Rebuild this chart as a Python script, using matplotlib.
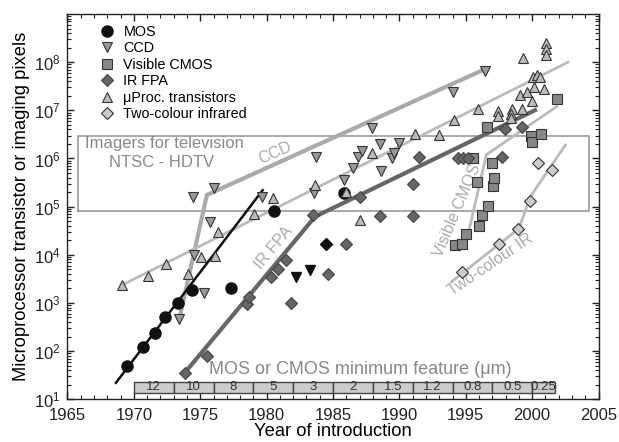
import matplotlib
matplotlib.use("Agg")
import matplotlib.pyplot as plt
from matplotlib.ticker import MultipleLocator, LogLocator, NullFormatter
import matplotlib.transforms as mtransforms

plt.rcParams['font.family'] = ['Liberation Sans', 'DejaVu Sans']
plt.rcParams['mathtext.default'] = 'regular'

# ---------------- data ----------------
mos_year = [1969.5, 1970.7, 1971.6, 1972.35, 1973.35, 1974.35, 1977.3, 1980.55, 1985.8]
mos_val = [50, 123, 240, 500, 980, 1900, 2000, 8e4, 1.95e5]

ccd_year = [1973.4, 1974.55, 1975.25, 1975.75, 1974.45, 1976.05, 1979.65, 1983.6, 1983.7,
            1985.8, 1986.5, 1986.85, 1987.15, 1987.95, 1988.55, 1988.6, 1989.45, 1989.6,
            1990.0, 1994.0, 1996.45]
ccd_val = [470, 1e4, 1600, 4.8e4, 1.6e5, 2.4e5, 1.6e5, 1.95e5, 1.1e6,
           3.5e5, 6.3e5, 1.1e6, 1.45e6, 4.3e6, 2e6, 5.6e5, 1.0e6, 1.3e6,
           2.1e6, 2.4e7, 6.5e7]
ccd_black_year = [1982.2, 1983.3]
ccd_black_val = [3400, 4800]

cmos_year = [1994.2, 1994.75, 1995.0, 1995.55, 1995.85, 1996.0, 1996.2, 1996.6, 1996.7,
             1996.95, 1997.05, 1997.15, 1999.9, 2000.0, 2000.65, 2001.9]
cmos_val = [1.6e4, 1.66e4, 2.7e4, 1e6, 3.3e5, 4e4, 6.7e4, 4.5e6, 1.05e5,
            8.1e5, 2.7e5, 3.9e5, 3e6, 2.2e6, 3.3e6, 1.7e7]

ir_year = [1973.85, 1975.5, 1978.5, 1978.65, 1980.35, 1980.85, 1981.45, 1981.85, 1983.5,
           1984.6, 1986.0, 1987.0, 1988.55, 1991.05, 1991.0, 1991.5, 1994.45, 1994.8,
           1995.2, 1997.75, 1997.95, 1999.25]
ir_val = [36, 81, 930, 1300, 3500, 5100, 7800, 1000, 6.7e4,
          4000, 1.66e4, 1.55e5, 6.5e4, 6.5e4, 2.9e5, 1.1e6, 1e6, 1e6,
          1e6, 1.1e6, 4.1e6, 4.5e6]
ir_black_year = [1984.5]
ir_black_val = [1.66e4]

up_year = [1969.1, 1971.1, 1972.4, 1974.05, 1975.05, 1976.1, 1976.35, 1979.05, 1980.5,
           1983.65, 1986.0, 1987.05, 1987.95, 1991.2, 1993.0, 1994.1, 1995.95, 1997.45,
           1997.45, 1998.45, 1998.4, 1998.4, 1999.2, 1999.1, 1999.6, 2000.1, 2000.9,
           2000.0, 2000.05, 2000.35, 2000.6, 1999.3, 2001.05, 2001.05, 2001.05]
up_val = [2350, 3600, 6600, 4000, 9000, 9300, 3e4, 7.2e4, 1.5e5,
          2.8e5, 2e5, 5.3e4, 1.3e6, 3.2e6, 3.1e6, 6.3e6, 1.05e7, 9.5e6,
          7.6e6, 1.05e7, 8.3e6, 6.8e6, 1.05e7, 2.1e7, 2.45e7, 3e7, 2.75e7,
          1.6e7, 5e7, 5.5e7, 4.9e7, 1.2e8, 2.45e8, 1.85e8, 1.4e8]

two_year = [1994.75, 1997.5, 1998.95, 1999.8, 2000.45, 2001.5]
two_val = [4300, 1.66e4, 3.4e4, 1.3e5, 8e5, 5.8e5]

# trend lines
mos_line_year = [1968.65, 1979.7]
mos_line_val = [22, 2.2e5]
ccd_line_year = [1973.45, 1975.5, 1996.55]
ccd_line_val = [500, 1.75e5, 7.4e7]
up_line_year = [1969.1, 2002.7]
up_line_val = [2350, 1e8]
ir_line_year = [1973.85, 1983.65, 2000.35]
ir_line_val = [36, 6.2e4, 1.05e7]
cmos_line_year = [1994.95, 1996.55, 2001.85]
cmos_line_val = [1.45e4, 1.2e6, 1.2e7]
two_line_year = [1993.95, 1999.0, 1999.85, 2002.5]
two_line_val = [2.8e3, 3.5e4, 1.6e5, 1.9e6]

# TV imager band
tv_years = [1965.77, 2004.3]
tv_vals = [8e4, 3e6]

# minimum feature size bar
feat_edges = [1970, 1973, 1976, 1979, 1982, 1985, 1988, 1991, 1994, 1997, 2000, 2001.75]
feat_labels = ['12', '10', '8', '5', '3', '2', '1.5', '1.2', '0.8', '0.5', '0.25']

# ---------------- figure ----------------
fig = plt.figure(figsize=(6.19, 4.42), dpi=100)
ax = fig.add_axes([0.109, 0.0966, 0.858, 0.8717])
ax.set_yscale('log')
ax.set_xlim(1965, 2005)
ax.set_ylim(10, 1e9)

# TV box
ax.plot([tv_years[0], tv_years[1], tv_years[1], tv_years[0], tv_years[0]],
        [tv_vals[0], tv_vals[0], tv_vals[1], tv_vals[1], tv_vals[0]],
        color='#999999', lw=1.2, zorder=1)
ax.text(1972.3, 10**6.32, 'Imagers for television', color='#888888', fontsize=12,
        ha='center', va='center')
ax.text(1972.1, 10**5.91, 'NTSC - HDTV', color='#888888', fontsize=12,
        ha='center', va='center')

# trend lines
ax.plot(ccd_line_year, ccd_line_val, color='#aaaaaa', lw=3, zorder=2, solid_capstyle='butt')
ax.plot(up_line_year, up_line_val, color='#bbbbbb', lw=2, zorder=2)
ax.plot(ir_line_year, ir_line_val, color='#666666', lw=3, zorder=2, solid_capstyle='butt')
ax.plot(cmos_line_year, cmos_line_val, color='#bbbbbb', lw=2, zorder=2)
ax.plot(two_line_year, two_line_val, color='#bbbbbb', lw=2, zorder=2)
ax.plot(mos_line_year, mos_line_val, color='#111111', lw=1.8, zorder=2)

# line labels
ax.text(1980.63, 10**6.11, 'CCD', color='#aaaaaa', fontsize=11.5, rotation=24,
        ha='center', va='center')
ax.text(1980.5, 10**4.14, 'IR FPA', color='#aaaaaa', fontsize=11.5, rotation=50,
        ha='center', va='center')
ax.text(1994.34, 10**4.93, 'Visible CMOS', color='#aaaaaa', fontsize=11.5, rotation=67,
        ha='center', va='center')
ax.text(1996.83, 10**3.79, 'Two-colour IR', color='#aaaaaa', fontsize=11.5, rotation=34,
        ha='center', va='center')

# markers
ec = '#333333'
h1, = ax.plot(mos_year, mos_val, 'o', ms=8, color='#111111', mec='#111111', zorder=4, label='MOS')
h2, = ax.plot(ccd_year, ccd_val, 'v', ms=7.5, mfc='#999999', mec=ec, mew=0.8, zorder=4, label='CCD')
ax.plot(ccd_black_year, ccd_black_val, 'v', ms=7.5, mfc='#111111', mec='#111111', zorder=4)
h3, = ax.plot(cmos_year, cmos_val, 's', ms=6.5, mfc='#888888', mec=ec, mew=0.8, zorder=4, label='Visible CMOS')
h4, = ax.plot(ir_year, ir_val, 'D', ms=6.5, mfc='#666666', mec='#444444', mew=0.8, zorder=4, label='IR FPA')
ax.plot(ir_black_year, ir_black_val, 'D', ms=6.5, mfc='#111111', mec='#111111', zorder=4)
h5, = ax.plot(up_year, up_val, '^', ms=7.5, mfc='#bbbbbb', mec=ec, mew=0.8, zorder=4,
              label='\u03bcProc. transistors')
h6, = ax.plot(two_year, two_val, 'D', ms=6.5, mfc='#cccccc', mec=ec, mew=0.8, zorder=4,
              label='Two-colour infrared')

leg = ax.legend(handles=[h1, h2, h3, h4, h5, h6], loc='upper left',
                bbox_to_anchor=(0.060, 0.972), frameon=False, fontsize=10.4,
                handlelength=1.0, handletextpad=0.67, labelspacing=0.17,
                borderpad=0, borderaxespad=0)

# feature-size bar
trans = mtransforms.blended_transform_factory(ax.transData, ax.transAxes)
bar_bot, bar_top = 0.0156, 0.0457
for i, lab in enumerate(feat_labels):
    x0, x1 = feat_edges[i], feat_edges[i + 1]
    rect = plt.Rectangle((x0, bar_bot), x1 - x0, bar_top - bar_bot, transform=trans,
                         facecolor='#cccccc', edgecolor='#444444', lw=1, zorder=3)
    ax.add_patch(rect)
    ax.text((x0 + x1) / 2, (bar_bot + bar_top) / 2 + 0.001, lab, transform=trans,
            ha='center', va='center', fontsize=9.5, color='#333333', zorder=4)
ax.text(1987.03, 10**1.61, 'MOS or CMOS minimum feature (\u03bcm)', color='#888888',
        fontsize=13, ha='center', va='center')

# axes styling
ax.xaxis.set_major_locator(MultipleLocator(5))
ax.xaxis.set_minor_locator(MultipleLocator(1))
ax.yaxis.set_major_locator(LogLocator(base=10, numticks=20))
ax.yaxis.set_minor_locator(LogLocator(base=10, subs=range(2, 10), numticks=20))
ax.yaxis.set_minor_formatter(NullFormatter())
ax.tick_params(which='both', direction='in', top=True, right=True, colors='#222222',
               labelsize=12)
ax.tick_params(axis='x', which='major', pad=6)
ax.tick_params(axis='y', which='major', pad=5)
ax.tick_params(which='major', length=5, width=1)
ax.tick_params(which='minor', length=3, width=0.8)
ax.set_yticks([10**k for k in range(1, 9)])
ax.set_xticks(range(1965, 2006, 5))
for s in ax.spines.values():
    s.set_color('#222222')
    s.set_linewidth(1)

ax.set_xlabel('Year of introduction', fontsize=13.2, labelpad=0)
ax.set_ylabel('Microprocessor transistor or imaging pixels', fontsize=13.2, labelpad=3)

fig.savefig('out.png', dpi=100)
